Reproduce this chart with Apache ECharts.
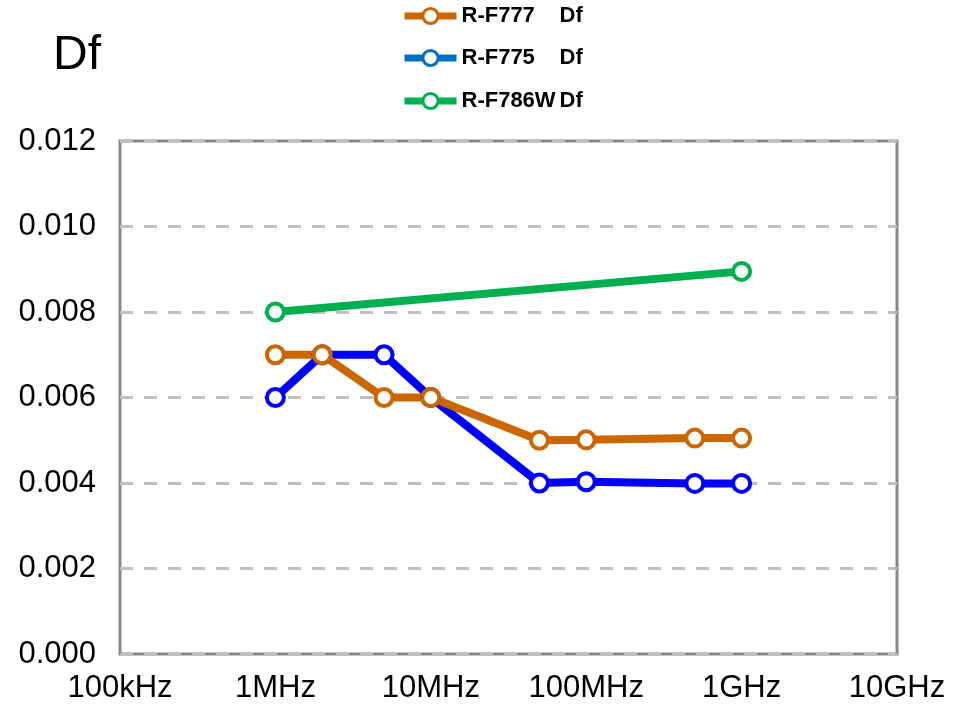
<!DOCTYPE html>
<html>
<head>
<meta charset="utf-8">
<script src="https://cdn.jsdelivr.net/npm/echarts@6/dist/echarts.min.js"></script>
<style>
  html, body { margin: 0; padding: 0; background: #fff; }
  #chart { width: 953px; height: 715px; }
</style>
</head>
<body>
<div id="chart"></div>
<script>
// 数据
const freqs = [1e6, 2e6, 5e6, 1e7, 5e7, 1e8, 5e8, 1e9];
const dfF777 = [0.007, 0.007, 0.006, 0.006, 0.005, 0.00501, 0.00505, 0.00505];
const dfF775 = [0.006, 0.007, 0.007, 0.006, 0.004, 0.00403, 0.00399, 0.00399];
const freqsF786W = [1e6, 1e9];
const dfF786W = [0.008, 0.00895];
const xTickLabels = ["100kHz", "1MHz", "10MHz", "100MHz", "1GHz", "10GHz"];
const yTickLabels = ["0.000", "0.002", "0.004", "0.006", "0.008", "0.010", "0.012"];

const FONT = "'Liberation Sans', Arial, sans-serif";

const pair = (xs, ys) => xs.map((x, i) => [x, ys[i]]);

const makeSeries = (name, data, color) => ({
  name: name,
  type: "line",
  data: data,
  symbol: "circle",
  symbolSize: 17,
  lineStyle: { color: color, width: 8 },
  itemStyle: { color: "#fff", borderColor: color, borderWidth: 4 },
  emphasis: { disabled: true },
  animation: false
});

// 图例（每个系列单独一个，便于定位）
const makeLegend = (name, top, color) => ({
  data: [{
    name: name,
    itemStyle: { color: "#fff", borderColor: color, borderWidth: 3 },
    lineStyle: { color: color, width: 7 }
  }],
  left: 396,
  top: top,
  itemWidth: 52,
  itemHeight: 19,
  itemGap: 6,
  selectedMode: false,
  formatter: n => `{a|${n}}{b|Df}`,
  textStyle: {
    fontFamily: FONT,
    fontWeight: "bold",
    fontSize: 22,
    color: "#000",
    rich: {
      a: { width: 96, fontFamily: FONT, fontWeight: "bold", fontSize: 22, color: "#000" },
      b: { fontFamily: FONT, fontWeight: "bold", fontSize: 22, color: "#000", padding: [0, 0, 0, 2] }
    }
  }
});

const chart = echarts.init(document.getElementById("chart"));

chart.setOption({
  backgroundColor: "#fff",
  animation: false,
  title: {
    text: "Df",
    left: 48,
    top: 27,
    textStyle: { fontFamily: FONT, fontWeight: "normal", fontSize: 48, color: "#000" }
  },
  legend: [
    makeLegend("R-F777", 0, "#CC6600"),
    makeLegend("R-F775", 42, "#0070C0"),
    makeLegend("R-F786W", 85, "#00B050")
  ],
  grid: {
    left: 120,
    right: 56,
    top: 141,
    bottom: 61,
    show: true,
    borderColor: "#888888",
    borderWidth: 3,
    containLabel: false
  },
  xAxis: {
    type: "log",
    logBase: 10,
    min: 1e5,
    max: 1e10,
    splitNumber: 5,
    axisLine: { show: false },
    axisTick: { show: false },
    splitLine: { show: false },
    axisLabel: {
      fontFamily: FONT,
      fontSize: 31,
      color: "#000",
      margin: 19,
      formatter: v => xTickLabels[Math.round(Math.log10(v)) - 5] || ""
    }
  },
  yAxis: {
    type: "value",
    min: 0,
    max: 0.012,
    interval: 0.002,
    axisLine: { show: false },
    axisTick: { show: false },
    splitLine: {
      lineStyle: { color: "#BFBFBF", width: 3, type: [13, 11] }
    },
    axisLabel: {
      fontFamily: FONT,
      fontSize: 31,
      color: "#000",
      margin: 24,
      formatter: v => yTickLabels[Math.round(v / 0.002)] || ""
    }
  },
  series: [
    makeSeries("R-F775", pair(freqs, dfF775), "#0000FF"),
    makeSeries("R-F777", pair(freqs, dfF777), "#CC6600"),
    makeSeries("R-F786W", pair(freqsF786W, dfF786W), "#00B050")
  ]
});
</script>
</body>
</html>
